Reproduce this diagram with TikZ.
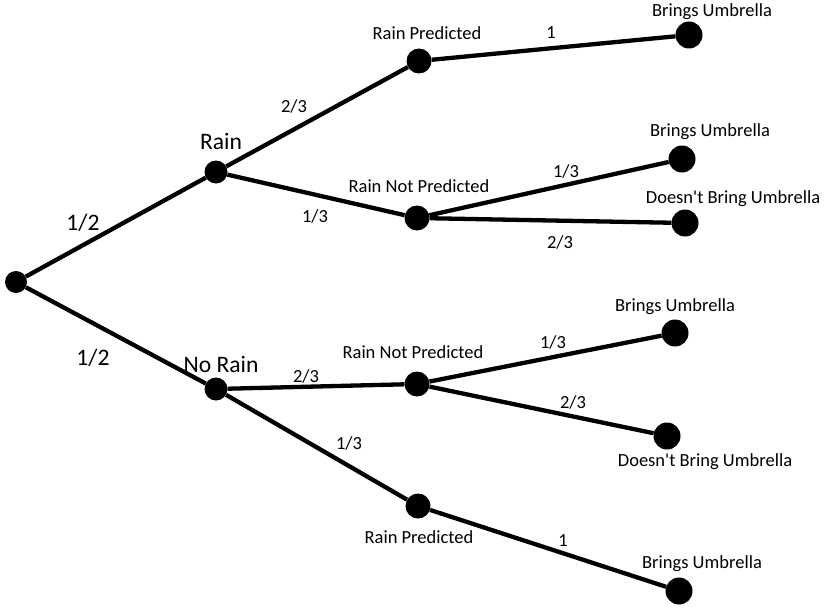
\documentclass[tikz,border=0pt]{standalone}
\usepackage{fontspec}
\setmainfont{Carlito}[Ligatures=TeXOff]
\begin{document}
\begin{tikzpicture}[x=1pt,y=-1pt,
  dot/.style={circle,fill=black,inner sep=0pt,minimum size=#1},
  dot/.default=23pt,
  branch/.style={line width=4.3pt,black},
  lbl/.style={font=\fontsize{18.5}{20}\selectfont,anchor=base,inner sep=0pt},
  big/.style={font=\fontsize{23.6}{26}\selectfont,anchor=base,inner sep=0pt}]
\useasboundingbox[fill=white] (0,0) rectangle (826,610);
% nodes
\node[dot=22pt] (root) at (16,282) {};
\node[dot] (rain) at (216,172) {};
\node[dot] (norain) at (216,389) {};
\node[dot=25pt] (rp1) at (419,61) {};
\node[dot=25pt] (rnp1) at (417,218) {};
\node[dot=25pt] (rnp2) at (417,384) {};
\node[dot=25pt] (rp2) at (418,506) {};
\node[dot=27pt] (l1) at (689,35) {};
\node[dot=27pt] (l2) at (682,159) {};
\node[dot=27pt] (l3) at (685,223) {};
\node[dot=27pt] (l4) at (675,333) {};
\node[dot=27pt] (l5) at (667,436) {};
\node[dot=27pt] (l6) at (679,591) {};
% branches
\draw[branch] (root) -- (rain);
\draw[branch] (root) -- (norain);
\draw[branch] (rain) -- (rp1);
\draw[branch] (rain) -- (rnp1);
\draw[branch] (norain) -- (rnp2);
\draw[branch] (norain) -- (rp2);
\draw[branch] (rp1) -- (l1);
\draw[branch] (rnp1) -- (l2);
\draw[branch] (rnp1) -- (l3);
\draw[branch] (rnp2) -- (l4);
\draw[branch] (rnp2) -- (l5);
\draw[branch] (rp2) -- (l6);
% labels
\node[big] (tRain) at (221,149) {Rain};
\node[big] (tNoRain) at (221,372) {No Rain};
\node[big] (p1) at (83,230) {1/2};
\node[big] (p2) at (93,365) {1/2};
\node[lbl] (p3) at (294,112) {2/3};
\node[lbl] (p4) at (315,222) {1/3};
\node[lbl] (p5) at (306,382) {2/3};
\node[lbl] (p6) at (349,449) {1/3};
\node[lbl] (p7) at (551,39) {1};
\node[lbl] (p8) at (566,177) {1/3};
\node[lbl] (p9) at (560,248) {2/3};
\node[lbl] (p10) at (553,348) {1/3};
\node[lbl] (p11) at (573,408) {2/3};
\node[lbl] (p12) at (563,546) {1};
\node[lbl] (tRP1) at (427,40) {Rain Predicted};
\node[lbl] (tRNP1) at (419,192) {Rain Not Predicted};
\node[lbl] (tRNP2) at (413,358) {Rain Not Predicted};
\node[lbl] (tRP2) at (419,543) {Rain Predicted};
\node[lbl] (tL1) at (712,17) {Brings Umbrella};
\node[lbl] (tL2) at (710,136) {Brings Umbrella};
\node[lbl] (tL3) at (733,203) {Doesn't Bring Umbrella};
\node[lbl] (tL4) at (675,311) {Brings Umbrella};
\node[lbl] (tL5) at (705,466) {Doesn't Bring Umbrella};
\node[lbl] (tL6) at (702,568) {Brings Umbrella};
\end{tikzpicture}
\end{document}
